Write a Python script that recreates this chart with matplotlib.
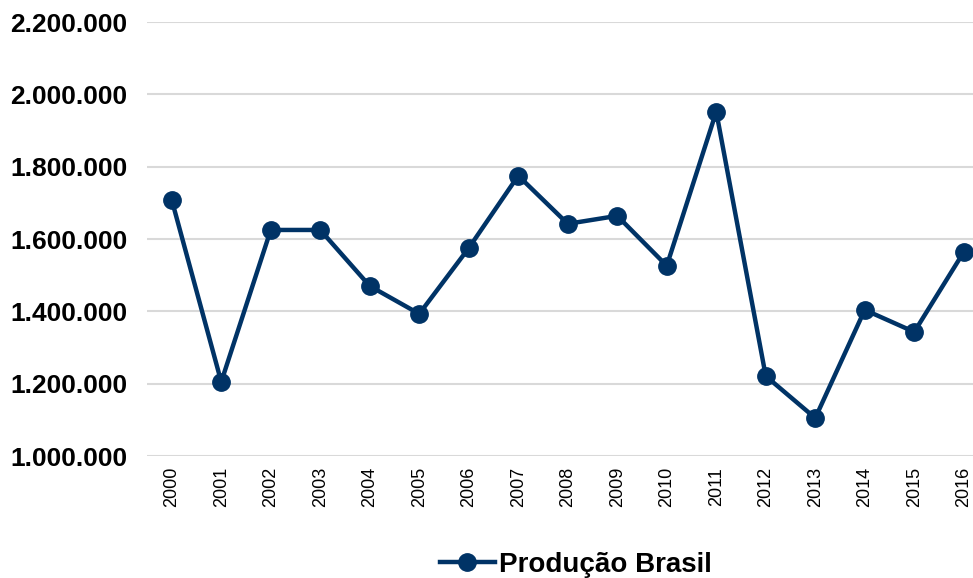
import matplotlib.pyplot as plt
from matplotlib.ticker import FuncFormatter

plt.rcParams['font.family'] = ['Liberation Sans', 'DejaVu Sans']

# dados
anos = ['2000', '2001', '2002', '2003', '2004', '2005', '2006', '2007', '2008',
        '2009', '2010', '2011', '2012', '2013', '2014', '2015', '2016']
producao = [1708000, 1205000, 1625000, 1625000, 1470000, 1393000, 1575000, 1775000,
            1642000, 1664000, 1526000, 1952000, 1221000, 1105000, 1404000, 1343000,
            1564000]
yticks = [1000000, 1200000, 1400000, 1600000, 1800000, 2000000, 2200000]

cor = '#003366'

fig = plt.figure(figsize=(9.73, 5.78), dpi=100)
ax = fig.add_axes([147 / 973, 1 - 456 / 578, (988.5 - 147) / 973, (456 - 22) / 578])

x = list(range(len(anos)))
ax.plot(x, producao, color=cor, linewidth=3.2, marker='o', markersize=12.5,
        label='Produção Brasil', clip_on=False)

ax.set_xlim(-0.5, len(anos) - 0.5)
ax.set_ylim(1000000, 2200000)
ax.set_yticks(yticks)
ax.yaxis.set_major_formatter(FuncFormatter(lambda v, p: '{:,.0f}'.format(v).replace(',', '.')))
ax.set_xticks(x)
ax.set_xticklabels(anos, rotation=90, fontsize=13)

for lbl in ax.get_yticklabels():
    lbl.set_fontsize(19)
    lbl.set_fontweight('bold')

ax.grid(axis='y', color='#d9d9d9', linewidth=1.5)
ax.set_axisbelow(True)
for s in ax.spines.values():
    s.set_visible(False)
ax.tick_params(length=0)
ax.tick_params(axis='y', pad=14)
ax.tick_params(axis='x', pad=8)

leg = fig.legend(loc='center', bbox_to_anchor=(576 / 973, 1 - 565 / 578), frameon=False,
                 prop={'size': 20, 'weight': 'bold'}, handlelength=2.0, handletextpad=0.15)

fig.savefig('out.png', dpi=100)
